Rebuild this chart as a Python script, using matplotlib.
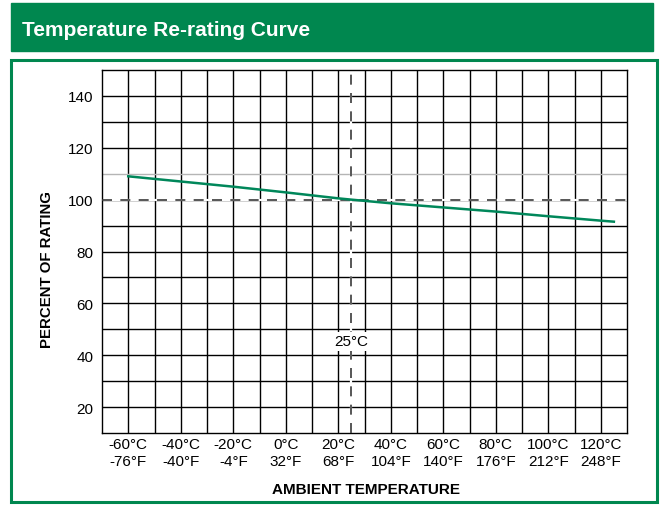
import numpy as np
import matplotlib
matplotlib.use('Agg')
from matplotlib import pyplot as plt
from matplotlib.patches import Rectangle

# données
temp_c = [-60, -40, -20, 0, 20, 25, 40, 60, 80, 100, 120, 125]
pourcentage = [109.0, 107.0, 105.0, 102.8, 100.5, 100.0, 98.6, 97.0, 95.4, 93.6, 91.9, 91.5]

ticks_c = [-60, -40, -20, 0, 20, 40, 60, 80, 100, 120]
etiquettes_x = ['-60°C\n-76°F', '-40°C\n-40°F', '-20°C\n-4°F', '0°C\n32°F', '20°C\n68°F',
                '40°C\n104°F', '60°C\n140°F', '80°C\n176°F', '100°C\n212°F', '120°C\n248°F']
ticks_y = [20, 40, 60, 80, 100, 120, 140]

VERT = '#00874f'
plt.rcParams['font.family'] = ['Liberation Sans', 'DejaVu Sans']

fig = plt.figure(figsize=(6.6, 5.06), dpi=100)
W, H = 660, 506

# bandeau du titre et cadre
fig.patches.append(Rectangle((11 / W, 1 - 52 / H), 642 / W, 48 / H,
                             transform=fig.transFigure, color=VERT, zorder=0))
fig.patches.append(Rectangle((11 / W, 1 - 503 / H), 646 / W, 442 / H,
                             transform=fig.transFigure, fill=False, edgecolor=VERT,
                             linewidth=2.2, zorder=0))
fig.text(22 / W, 1 - 31 / H, 'Temperature Re-rating Curve', color='white',
         fontsize=15, fontweight='bold', va='center', ha='left')

ax = fig.add_axes([102 / W, 1 - 434 / H, 525 / W, 363 / H])
ax.set_xlim(-70, 130)
ax.set_ylim(10, 150)

for x in np.arange(-60, 130, 10):
    ax.axvline(x, color='black', lw=1.0, zorder=1)
for y in np.arange(20, 150, 10):
    ax.axhline(y, color='#b5b5b5' if y == 110 else 'black', lw=1.0, zorder=1)

ax.axhline(100, color='white', lw=1.6, zorder=2)
ax.axhline(100, color='#3a3a3a', lw=1.2, dashes=(6, 5), zorder=3)
ax.axvline(25, color='white', lw=1.6, zorder=2)
ax.axvline(25, color='#3a3a3a', lw=1.2, dashes=(6, 5), zorder=3)

ax.plot(temp_c, pourcentage, color='#00875a', lw=1.8, zorder=4)

ax.text(25, 45.3, '25°C', fontsize=11, ha='center', va='center', zorder=5,
        bbox=dict(facecolor='white', edgecolor='none', pad=1.5))

ax.set_xticks(ticks_c)
ax.set_xticklabels(etiquettes_x, fontsize=11, linespacing=1.3)
ax.set_yticks(ticks_y)
ax.set_yticklabels([str(v) for v in ticks_y], fontsize=11)
ax.tick_params(length=0)
ax.tick_params(axis='y', pad=6)
ax.tick_params(axis='x', pad=3)
for s in ax.spines.values():
    s.set_linewidth(1.0)

fig.text(366 / W, 1 - 490 / H, 'AMBIENT TEMPERATURE', fontsize=11, fontweight='bold',
         ha='center', va='center')
fig.text(47 / W, 1 - 270 / H, 'PERCENT OF RATING', fontsize=10.8, fontweight='bold',
         ha='center', va='center', rotation=90)

fig.savefig('out.png', dpi=100)
